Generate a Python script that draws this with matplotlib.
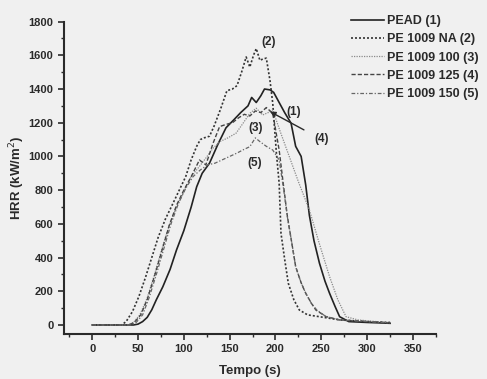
import matplotlib
matplotlib.use("Agg")
from matplotlib import pyplot as plt
from matplotlib.ticker import MultipleLocator

# PEAD (1)
t1 = [0, 45, 50, 55, 60, 65, 70, 77, 85, 92, 100, 108, 114, 120, 128, 137, 146, 155, 162, 170, 174, 179, 184, 188, 194, 198, 204, 210, 217, 222, 228, 233, 237, 242, 248, 254, 259, 265, 270, 280, 300, 325]
y1 = [0, 0, 5, 20, 45, 90, 150, 226, 330, 445, 560, 700, 820, 900, 960, 1070, 1170, 1220, 1260, 1300, 1350, 1320, 1360, 1400, 1395, 1380, 1320, 1260, 1197, 1060, 1000, 830, 650, 500, 366, 260, 188, 110, 49, 20, 15, 10]

# PE 1009 NA (2)
t2 = [0, 32, 37, 44, 51, 58, 65, 72, 80, 88, 95, 102, 108, 114, 118, 122, 128, 133, 140, 147, 153, 158, 163, 168, 172, 176, 179, 183, 187, 190, 194, 197, 201, 204, 206, 210, 214, 220, 226, 235, 248, 270, 300, 325]
y2 = [0, 0, 20, 80, 170, 280, 400, 520, 630, 720, 800, 880, 980, 1060, 1100, 1110, 1120, 1180, 1280, 1390, 1400, 1420, 1500, 1590, 1530, 1600, 1640, 1570, 1580, 1583, 1450, 1316, 1019, 841, 544, 390, 247, 150, 89, 60, 49, 30, 20, 15]

# PE 1009 100 (3)
t3 = [0, 38, 45, 52, 60, 68, 76, 84, 92, 100, 108, 117, 124, 132, 140, 148, 157, 165, 172, 179, 186, 192, 197, 205, 215, 225, 237, 248, 259, 268, 277, 290, 310, 325]
y3 = [0, 0, 15, 60, 160, 300, 450, 590, 700, 790, 880, 941, 990, 1050, 1090, 1110, 1138, 1200, 1256, 1286, 1246, 1260, 1276, 1150, 1000, 850, 682, 480, 287, 150, 49, 30, 20, 15]

# PE 1009 125 (4)
t4 = [0, 40, 46, 53, 60, 68, 76, 84, 92, 100, 108, 117, 124, 132, 139, 146, 153, 160, 166, 172, 178, 184, 190, 197, 204, 208, 213, 218, 222, 228, 233, 239, 244, 255, 270, 300, 325]
y4 = [0, 0, 15, 60, 150, 290, 440, 590, 710, 800, 880, 979, 950, 1080, 1177, 1190, 1200, 1230, 1250, 1240, 1270, 1260, 1290, 1256, 1038, 860, 643, 480, 346, 250, 188, 130, 89, 50, 30, 20, 12]

# PE 1009 150 (5)
t5 = [0, 42, 48, 55, 62, 70, 78, 86, 94, 102, 110, 118, 126, 134, 142, 150, 158, 165, 172, 178, 183, 190, 197, 204, 209, 213, 218, 222, 228, 233, 239, 245, 255, 270, 300, 325]
y5 = [0, 0, 15, 60, 160, 300, 450, 600, 720, 810, 880, 920, 950, 960, 980, 1000, 1020, 1040, 1058, 1110, 1088, 1060, 1038, 979, 800, 640, 480, 346, 250, 188, 130, 89, 50, 30, 20, 12]

labels = ["PEAD (1)", "PE 1009 NA (2)", "PE 1009 100 (3)", "PE 1009 125 (4)", "PE 1009 150 (5)"]

bg = "#f0f0f0"
ink = "#2a2a2a"

fig = plt.figure(figsize=(4.87, 3.79), dpi=100, facecolor=bg)
ax = fig.add_axes([0.131, 0.119, 0.764, 0.824])
ax.set_facecolor(bg)

ax.plot(t1, y1, color="#222222", lw=1.2, ls="-", label=labels[0])
ax.plot(t2, y2, color="#333333", lw=1.2, ls=(0, (1.2, 1.2)), label=labels[1])
ax.plot(t3, y3, color="#8a8a8a", lw=0.9, ls=(0, (1, 1)), label=labels[2])
ax.plot(t4, y4, color="#444444", lw=1.0, ls=(0, (3, 1.5)), label=labels[3])
ax.plot(t5, y5, color="#666666", lw=0.9, ls=(0, (3, 1.5, 1, 1.5)), label=labels[4])

ax.set_xlim(-31, 375)
ax.set_ylim(-53, 1800)
ax.xaxis.set_minor_locator(MultipleLocator(25))
ax.yaxis.set_minor_locator(MultipleLocator(100))
ax.set_xticks(range(0, 351, 50))
ax.set_yticks(range(0, 1801, 200))

for s in ["top", "right"]:
    ax.spines[s].set_visible(False)
for s in ["left", "bottom"]:
    ax.spines[s].set_linewidth(1.5)
    ax.spines[s].set_color(ink)

ax.tick_params(which="major", direction="out", length=4, width=1.2, color=ink,
               labelsize=8, labelcolor=ink)
ax.tick_params(which="minor", direction="out", length=2.5, width=1.0, color=ink)
for lab in ax.get_xticklabels() + ax.get_yticklabels():
    lab.set_fontfamily("Liberation Sans")
    lab.set_fontweight("bold")

ax.set_xlabel("Tempo (s)", fontsize=9.5, fontfamily="Liberation Sans", fontweight="bold", color=ink, labelpad=8)
ax.set_ylabel("HRR (kW/m$^2$)", fontsize=9.5, fontfamily="Liberation Sans", fontweight="bold", color=ink, labelpad=1)

ann = dict(fontsize=8.5, fontfamily="Liberation Sans", fontweight="bold", color=ink, ha="center", va="center")
ax.text(192, 1680, "(2)", **ann)
ax.text(220, 1262, "(1)", **ann)
ax.text(178, 1169, "(3)", **ann)
ax.text(177, 961, "(5)", **ann)
ax.annotate("(4)", xy=(194, 1266), xytext=(250, 1102),
            arrowprops=dict(arrowstyle="-|>", color=ink, lw=1.0, shrinkA=6, shrinkB=0,
                            mutation_scale=8), **ann)

leg = fig.legend(loc="upper left", bbox_to_anchor=(0.698, 0.99), frameon=False,
                 handlelength=2.6, handletextpad=0.3, labelspacing=0.5, borderpad=0.4,
                 prop={"family": "Liberation Sans", "weight": "bold", "size": 9})
for t in leg.get_texts():
    t.set_color(ink)

fig.savefig("out.png", dpi=100, facecolor=bg)
